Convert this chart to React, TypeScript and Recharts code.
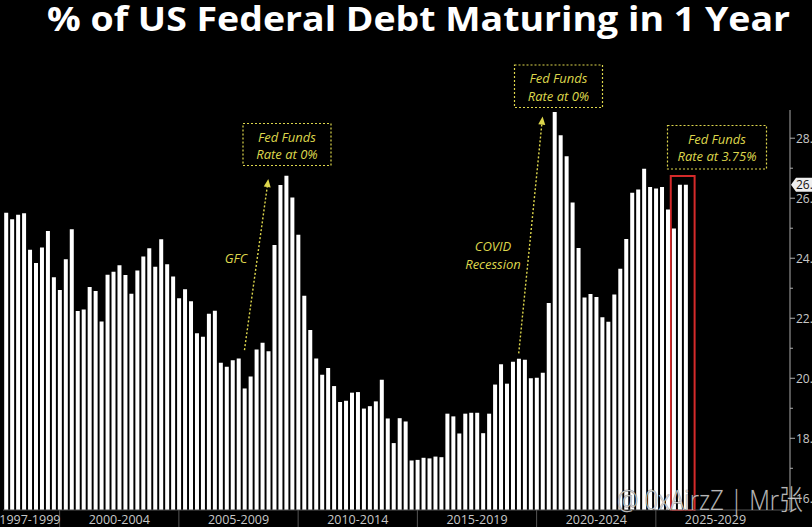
import React from "react"
import { Bar, BarChart, ReferenceArea, ReferenceLine, XAxis, YAxis } from "recharts"

// quarter-end observations, 1997 Q3 onward; axis runs on past the last print
const FIRST_YEAR = 1997
const FIRST_QUARTER = 3
const SLOT_COUNT = 132

const quarters: string[] = []
for (let i = 0; i < SLOT_COUNT; i++) {
  const n = FIRST_QUARTER - 1 + i
  quarters.push(`${FIRST_YEAR + Math.floor(n / 4)}Q${(n % 4) + 1}`)
}

// % of marketable debt maturing within 1 year
const shareMaturing = [
  25.52, 25.3, 25.45, 25.5, 24.28, 23.84, 24.36, 24.91, 23.37, 22.94,
  23.97, 24.97, 22.24, 22.29, 23.04, 22.91, 21.89, 23.45, 23.55, 23.77,
  23.44, 22.82, 23.59, 24.06, 24.33, 23.72, 24.63, 23.8, 23.39, 22.67,
  22.97, 22.57, 21.5, 21.38, 22.15, 22.25, 20.52, 20.38, 20.6, 20.66,
  19.66, 20.06, 20.96, 21.18, 20.9, 24.44, 26.44, 26.75, 26.02, 24.78,
  22.75, 21.61, 20.66, 20.12, 20.34, 19.74, 19.21, 19.25, 19.52, 19.54,
  18.99, 19.07, 19.23, 19.95, 18.66, 17.84, 18.67, 18.56, 17.26, 17.28,
  17.35, 17.33, 17.39, 17.37, 18.82, 18.73, 18.16, 18.82, 18.85, 18.85,
  18.17, 18.82, 19.79, 20.47, 19.82, 20.55, 20.65, 20.62, 20.0, 20.02,
  20.18, 22.51, 28.87, 28.1, 27.4, 25.86, 24.34, 22.69, 22.81, 22.71,
  22.03, 21.88, 22.79, 23.65, 24.64, 26.18, 26.29, 26.98, 26.37, 26.32,
  26.37, 25.62, 24.99, 26.45, 26.45,
]

const groupLabels = ["1997-1999", "2000-2004", "2005-2009", "2010-2014", "2015-2019", "2020-2024", "2025-2029"]
const groupLabelAt = ["1998Q3", "2002Q2", "2007Q2", "2012Q2", "2017Q2", "2022Q2", "2027Q2"]
const groupEnds = ["1999Q4", "2004Q4", "2009Q4", "2014Q4", "2019Q4", "2024Q4"]

const yTicks = [16, 17, 18, 19, 20, 21, 22, 23, 24, 25, 26, 27, 28]
const lastValue = shareMaturing[shareMaturing.length - 1]

const data = quarters.map((q, i) => ({ q, share: shareMaturing[i] ?? null }))

const YELLOW = "#ddd64c"
const FONT = "'Open Sans', 'Noto Sans', sans-serif"

function XTick(props: any) {
  const { x, y, payload } = props
  const idx = groupLabelAt.indexOf(payload.value)
  if (idx >= 0) {
    return (
      <text x={x} y={y + 9} textAnchor="middle" dominantBaseline="central" fill="#c8c8c8" fontSize={12.5} fontFamily={FONT}>
        {groupLabels[idx]}
      </text>
    )
  }
  return <line x1={x} x2={x} y1={y} y2={y + 17} stroke="#555" strokeWidth={1} />
}

function YTick(props: any) {
  const { x, y, payload } = props
  const v = payload.value
  if (v === lastValue) {
    return (
      <g>
        <polygon
          points={`${x + 1},${y} ${x + 6},${y - 7} ${x + 40},${y - 7} ${x + 40},${y + 7} ${x + 6},${y + 7}`}
          fill="#eeeeee"
        />
        <text x={x + 6} y={y} dominantBaseline="central" fill="#111" fontSize={12} fontFamily={FONT}>
          {v.toFixed(2)}
        </text>
      </g>
    )
  }
  if (v % 2 === 1) {
    return <line x1={x} x2={x + 3} y1={y} y2={y} stroke="#aaa" />
  }
  return (
    <g>
      <line x1={x} x2={x + 5} y1={y} y2={y} stroke="#aaa" />
      <text x={x + 6} y={y} dominantBaseline="central" fill="#c8c8c8" fontSize={12} fontFamily={FONT}>
        {v.toFixed(1)}
      </text>
    </g>
  )
}

function DottedArrow(props: any) {
  const { x1, y1, x2, y2 } = props
  const a = Math.atan2(y2 - y1, x2 - x1)
  const bx = x2 - 8 * Math.cos(a)
  const by = y2 - 8 * Math.sin(a)
  const px = -Math.sin(a) * 3.5
  const py = Math.cos(a) * 3.5
  return (
    <g>
      <line x1={x1} y1={y1} x2={bx} y2={by} stroke={YELLOW} strokeWidth={1.4} strokeDasharray="2 2" />
      <polygon points={`${x2},${y2} ${bx + px},${by + py} ${bx - px},${by - py}`} fill={YELLOW} />
    </g>
  )
}

function NoteBox({ x, y, w, h, lines }: { x: number; y: number; w: number; h: number; lines: string[] }) {
  return (
    <g>
      <rect x={x} y={y} width={w} height={h} fill="none" stroke={YELLOW} strokeWidth={1.2} strokeDasharray="2 2" />
      {lines.map((t, i) => (
        <text
          key={t}
          x={x + w / 2}
          y={y + 13 + i * 17.5}
          textAnchor="middle"
          dominantBaseline="central"
          fill={YELLOW}
          fontSize={13}
          fontStyle="italic"
          fontFamily={FONT}
        >
          {t}
        </text>
      ))}
    </g>
  )
}

export default function App() {
  return (
    <div style={{ position: "absolute", left: 0, top: 0, width: 812, height: 527, overflow: "hidden", background: "#000" }}>
      <BarChart width={812} height={527} data={data} margin={{ top: 110, right: 0, left: 3, bottom: 0 }} barCategoryGap="20%">
        <XAxis
          dataKey="q"
          ticks={[...groupEnds, ...groupLabelAt]}
          interval={0}
          tickLine={false}
          tickSize={0}
          tickMargin={0}
          height={17}
          stroke="#555"
          tick={<XTick />}
        />
        <YAxis
          orientation="right"
          width={22}
          domain={[15.61, 28.94]}
          allowDataOverflow
          ticks={[...yTicks, lastValue]}
          interval={0}
          tickLine={false}
          tickSize={0}
          tickMargin={0}
          stroke="#aaa"
          tick={<YTick />}
        />
        <Bar dataKey="share" fill="#ffffff" isAnimationActive={false} />
        <ReferenceArea
          x1="2025Q3"
          x2="2026Q2"
          y1={15.61}
          y2={26.74}
          fill="none"
          stroke="#d42a2a"
          strokeWidth={2}
          fillOpacity={0}
          ifOverflow="visible"
        />
        <ReferenceLine
          segment={[{ x: "2007Q3", y: 20.94 }, { x: "2008Q3", y: 26.64 }]}
          shape={<DottedArrow />}
          ifOverflow="visible"
        />
        <ReferenceLine
          segment={[{ x: "2019Q1", y: 20.83 }, { x: "2020Q1", y: 28.72 }]}
          shape={<DottedArrow />}
          ifOverflow="visible"
        />
      </BarChart>
      <svg width={812} height={527} style={{ position: "absolute", left: 0, top: 0, pointerEvents: "none" }}>
        <text x={47} y={31} fill="#fff" fontSize={34} fontWeight={700} fontFamily={FONT} textLength={743} lengthAdjust="spacingAndGlyphs">
          % of US Federal Debt Maturing in 1 Year
        </text>
        <NoteBox x={243} y={123.5} w={88} h={42} lines={["Fed Funds", "Rate at 0%"]} />
        <NoteBox x={514.5} y={65} w={88} h={42.5} lines={["Fed Funds", "Rate at 0%"]} />
        <NoteBox x={667.5} y={125.5} w={99} h={43.5} lines={["Fed Funds", "Rate at 3.75%"]} />
        <text x={236} y={258} textAnchor="middle" dominantBaseline="central" fill={YELLOW} fontSize={13} fontStyle="italic" fontFamily={FONT}>
          GFC
        </text>
        <text x={493} y={245.5} textAnchor="middle" dominantBaseline="central" fill={YELLOW} fontSize={13} fontStyle="italic" fontFamily={FONT}>
          COVID
        </text>
        <text x={493} y={263.5} textAnchor="middle" dominantBaseline="central" fill={YELLOW} fontSize={13} fontStyle="italic" fontFamily={FONT}>
          Recession
        </text>
        <text
          x={617}
          y={510}
          fill="#e6e6e6"
          fillOpacity={0.8}
          stroke="#222"
          strokeOpacity={0.5}
          strokeWidth={1}
          paintOrder="stroke"
          fontSize={28}
          fontWeight={300}
          fontFamily="'Open Sans', 'Noto Sans CJK SC', sans-serif"
          textLength={186}
          lengthAdjust="spacingAndGlyphs"
        >
          @ 0xAirzZ | Mr张
        </text>
      </svg>
    </div>
  )
}
